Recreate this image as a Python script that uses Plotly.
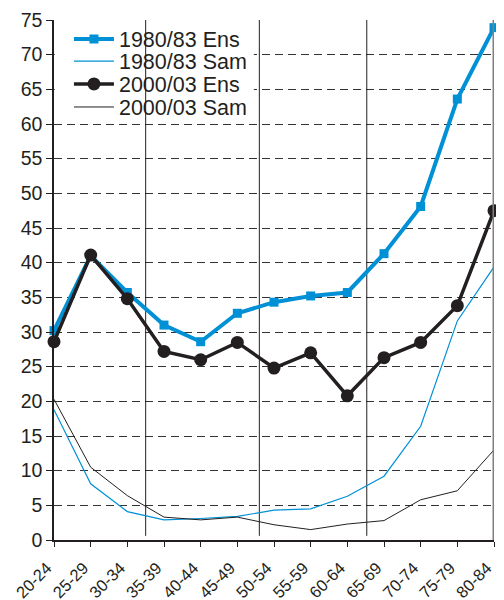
import plotly.graph_objects as go

age_groups = ['20-24', '25-29', '30-34', '35-39', '40-44', '45-49', '50-54',
              '55-59', '60-64', '65-69', '70-74', '75-79', '80-84']

ens_1980 = [30.2, 41.0, 35.7, 31.0, 28.6, 32.7, 34.3, 35.2, 35.7, 41.3, 48.1, 63.6, 73.9]
sam_1980 = [18.8, 8.1, 4.1, 2.9, 3.1, 3.4, 4.3, 4.5, 6.3, 9.2, 16.4, 31.6, 39.4]
ens_2000 = [28.6, 41.1, 34.8, 27.2, 26.0, 28.5, 24.8, 27.0, 20.8, 26.3, 28.5, 33.8, 47.5]
sam_2000 = [20.3, 10.5, 6.4, 3.3, 2.9, 3.3, 2.2, 1.5, 2.3, 2.8, 5.8, 7.1, 13.0]

# period dividers, in category index units
dividers = [2.5, 5.6, 8.53]

BLUE = '#0090d6'
BLACK = '#231f20'

fig = go.Figure()

# one legend per trace so the rows can sit closer together than plotly's default spacing
fig.add_trace(go.Scatter(x=age_groups, y=ens_1980, name='1980/83 Ens', mode='lines+markers',
                         line=dict(color=BLUE, width=4),
                         marker=dict(symbol='square', size=9, color=BLUE),
                         cliponaxis=False, legend='legend'))
fig.add_trace(go.Scatter(x=age_groups, y=sam_1980, name='1980/83 Sam', mode='lines',
                         line=dict(color=BLUE, width=1.2), cliponaxis=False, legend='legend2'))
fig.add_trace(go.Scatter(x=age_groups, y=ens_2000, name='2000/03 Ens', mode='lines+markers',
                         line=dict(color=BLACK, width=3.5),
                         marker=dict(symbol='circle', size=13, color=BLACK),
                         cliponaxis=False, legend='legend3'))
fig.add_trace(go.Scatter(x=age_groups, y=sam_2000, name='2000/03 Sam', mode='lines',
                         line=dict(color=BLACK, width=1), cliponaxis=False, legend='legend4'))

shapes = [
    # white patch behind the legend, hides the grid there
    dict(type='rect', xref='x', yref='y', x0=0.02, x1=5.45, y0=61.5, y1=73.6,
         fillcolor='white', line=dict(width=0), layer='between'),
]
for d in dividers:
    shapes.append(dict(type='line', xref='x', yref='y', x0=d, x1=d, y0=0.6, y1=75.6,
                       line=dict(color=BLACK, width=1), layer='between'))
shapes.append(dict(type='line', xref='x', yref='y', x0=12, x1=12, y0=0, y1=75,
                   line=dict(color='#808080', width=3), layer='above'))

leg = dict(x=0.034, xanchor='left', yanchor='middle', bgcolor='rgba(0,0,0,0)',
           font=dict(size=21.5), itemwidth=40)

# page body adds an 8px margin, so the figure is a bit smaller than the window
fig.update_layout(
    width=488, height=592,
    margin=dict(l=46, r=2, t=12, b=60),
    paper_bgcolor='white', plot_bgcolor='white',
    font=dict(family='Liberation Sans, Arial, sans-serif', color=BLACK),
    shapes=shapes,
    showlegend=True,
    legend=dict(leg, y=0.9635),
    legend2=dict(leg, y=0.921),
    legend3=dict(leg, y=0.877),
    legend4=dict(leg, y=0.8327),
    xaxis=dict(range=[0, 12], showgrid=False, showline=True, linecolor=BLACK, linewidth=2,
               ticks='outside', ticklen=5, tickcolor=BLACK, tickangle=-45,
               tickfont=dict(size=16.5), ticklabelshift=-7, ticklabelstandoff=5,
               automargin=False),
    yaxis=dict(range=[0, 75], dtick=5, showgrid=True, gridcolor='#333333', gridwidth=1,
               griddash='8px,5px', showline=True, linecolor=BLACK, linewidth=1.5,
               ticks='outside', ticklen=6, tickcolor=BLACK, zeroline=False,
               tickfont=dict(size=19.5), automargin=False),
)

fig.write_html('out.html')
